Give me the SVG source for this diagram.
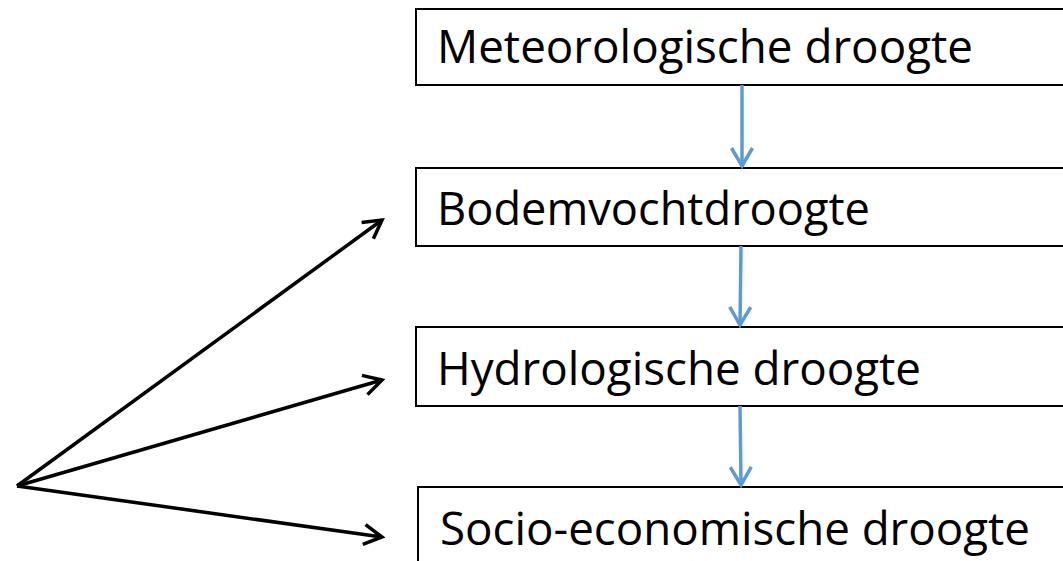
<svg xmlns="http://www.w3.org/2000/svg" width="1063" height="561" viewBox="0 0 1063 561">
<style>
.box{fill:#fff;stroke:#000;stroke-width:2}
.lbl{font-family:"Open Sans","Noto Sans","Liberation Sans",sans-serif;font-size:45px;fill:#000}
.blue{stroke:#5B9BD5;stroke-width:3.5;fill:none}
.blk{stroke:#000;stroke-width:3.5;fill:none}
</style>
<defs>
<marker id="ab" viewBox="0 0 24 24" refX="21" refY="12" markerWidth="24" markerHeight="24" markerUnits="userSpaceOnUse" orient="auto">
<path d="M3,1.5 L21,12 L3,22.5" fill="none" stroke="#5B9BD5" stroke-width="3.5"/>
</marker>
<marker id="ak" viewBox="0 0 24 24" refX="21" refY="12" markerWidth="24" markerHeight="24" markerUnits="userSpaceOnUse" orient="auto">
<path d="M3,2 L21,12 L3,22" fill="none" stroke="#000" stroke-width="3.5"/>
</marker>
</defs>
<g id="n1"><rect class="box" x="416" y="9" width="660" height="76"/><text class="lbl" x="437" y="63" textLength="536" lengthAdjust="spacingAndGlyphs">Meteorologische droogte</text></g>
<g id="n2"><rect class="box" x="416" y="168" width="660" height="78"/><text class="lbl" x="437" y="225" textLength="433" lengthAdjust="spacingAndGlyphs">Bodemvochtdroogte</text></g>
<g id="n3"><rect class="box" x="416" y="327" width="660" height="79"/><text class="lbl" x="437" y="385" textLength="484" lengthAdjust="spacingAndGlyphs">Hydrologische droogte</text></g>
<g id="n4"><rect class="box" x="418" y="487" width="660" height="90"/><text class="lbl" x="440" y="545" textLength="590" lengthAdjust="spacingAndGlyphs">Socio-economische droogte</text></g>
<g id="connectors">
<line class="blue" x1="742" y1="85" x2="742" y2="166" marker-end="url(#ab)"/>
<line class="blue" x1="741" y1="246" x2="740" y2="325" marker-end="url(#ab)"/>
<line class="blue" x1="740" y1="406" x2="741" y2="485" marker-end="url(#ab)"/>
<line class="blk" x1="17" y1="486" x2="382" y2="220" marker-end="url(#ak)"/>
<line class="blk" x1="17" y1="486" x2="382" y2="380" marker-end="url(#ak)"/>
<line class="blk" x1="17" y1="486" x2="382" y2="537" marker-end="url(#ak)"/>
</g>
</svg>
